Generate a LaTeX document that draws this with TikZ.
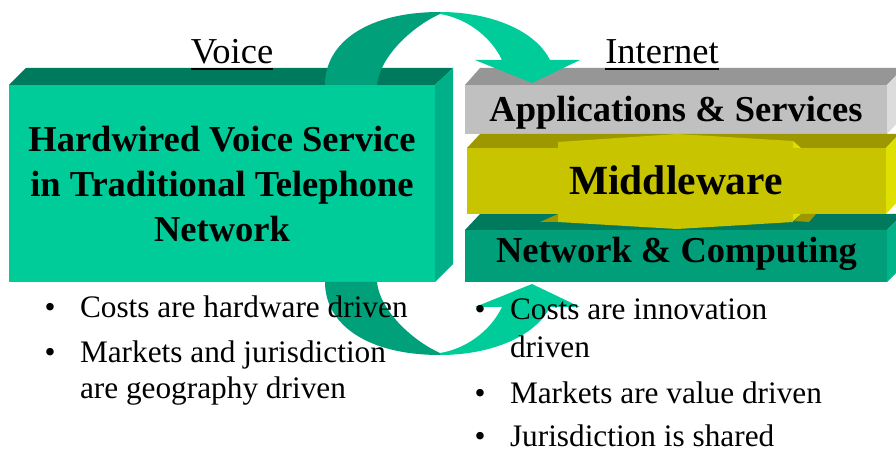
\documentclass[tikz,border=0pt]{standalone}
\usepackage{fontspec}
\setmainfont{Liberation Serif}

% slab colours
\definecolor{vfrontc}{HTML}{00CC99}
\definecolor{vtopc}{HTML}{007A5C}
\definecolor{vsidec}{HTML}{00B088}
\definecolor{gfrontc}{HTML}{C0C0C0}
\definecolor{gtopc}{HTML}{969696}
\definecolor{gsidec}{HTML}{DCDCDC}
\definecolor{yfrontc}{HTML}{C8C400}
\definecolor{ytopc}{HTML}{9E9800}
\definecolor{ysidec}{HTML}{E0E000}
\definecolor{nfrontc}{HTML}{009E79}
\definecolor{ntopc}{HTML}{007A5C}
\definecolor{nsidec}{HTML}{00B388}
\definecolor{arrdarkc}{HTML}{00A07A}
\definecolor{arrlightc}{HTML}{00CC99}

% underlined heading word
\newcommand\ulword[1]{\setbox0\hbox{#1}\rlap{\rule[-6bp]{\wd0}{2bp}}\box0}

% curved ribbon arrow: dark back half and light front half with its head
\newcommand\ribbonarrow{%
  \fill[arrdark] (325,85) .. controls (325,42) and (368,12) .. (440,12)
     -- (440,14) .. controls (415,25) and (380,55) .. (377,85) -- cycle;
  \fill[arrlight] (440,12) .. controls (490,12) and (535,30) .. (550,60)
     -- (580,60) -- (532,83) -- (475,60) -- (502,60)
     .. controls (490,35) and (465,18) .. (440,14) -- cycle;
}

\tikzset{
  vfront/.style={fill=vfrontc}, vtop/.style={fill=vtopc}, vside/.style={fill=vsidec},
  gfront/.style={fill=gfrontc}, gtop/.style={fill=gtopc}, gside/.style={fill=gsidec},
  yfront/.style={fill=yfrontc}, ytop/.style={fill=ytopc}, yside/.style={fill=ysidec},
  nfront/.style={fill=nfrontc}, ntop/.style={fill=ntopc}, nside/.style={fill=nsidec},
  arrdark/.style={fill=arrdarkc}, arrlight/.style={fill=arrlightc},
  txt/.style={inner sep=0pt, outer sep=0pt, text=black},
  heading/.style={txt, anchor=base, font=\fontsize{36.5bp}{44bp}\selectfont},
  boxtxt/.style={txt, anchor=base, font=\fontsize{36.5bp}{45bp}\selectfont\bfseries},
  midtxt/.style={txt, anchor=base, font=\fontsize{41.5bp}{50bp}\selectfont\bfseries},
  bul/.style={txt, anchor=base, font=\fontsize{31.3bp}{35bp}\selectfont},
  btxt/.style={txt, anchor=base west, font=\fontsize{31.3bp}{35bp}\selectfont},
}

\begin{document}
\begin{tikzpicture}[x=1bp,y=-1bp]
\fill[white] (0,0) rectangle (896,450);
\useasboundingbox (0,0) rectangle (896,450);

% voice slab
\fill[vtop] (9,85) -- (26,68) -- (453,68) -- (435,85) -- cycle;
\fill[vside] (435,85) -- (453,68) -- (453,264) -- (435,282) -- cycle;
\fill[vfront] (9,85) rectangle (435,282);

% applications slab
\fill[gtop] (465,85) -- (480,68) -- (903,68) -- (887,85) -- cycle;
\fill[gside] (887,85) -- (903,68) -- (903,117) -- (887,134) -- cycle;
\fill[gfront] (465,85) rectangle (887,134);

% network slab
\fill[ntop] (465,230) -- (480,214) -- (903,214) -- (887,230) -- cycle;
\fill[nside] (887,230) -- (903,214) -- (903,266) -- (887,282) -- cycle;
\fill[nfront] (465,230) rectangle (887,282);

% middleware slab
\fill[ytop] (467,148) -- (480,134) -- (899,134) -- (886,148) -- cycle;
\fill[yside] (886,148) -- (899,134) -- (899,200) -- (886,214) -- cycle;
\fill[yfront] (467,148) rectangle (886,214);

% middleware bulge with bevelled ends
\fill[ytop] (540,143) -- (558,141) -- (558,148) -- (540,148) -- cycle;
\fill[ytop] (540,222) -- (558,214) -- (558,222) -- cycle;
\fill[ytop] (794,221) -- (801,214) -- (816,214) -- (809,222) -- cycle;
\fill[yside] (793,141) -- (801,148) -- (793,148) -- cycle;
\fill[yside] (793,214) -- (801,214) -- (793,221) -- cycle;
\fill[yfront] (558,142) -- (677,134) -- (793,141) -- (793,222) -- (677,229) -- (558,222) -- cycle;

% curved arrows: upper one, and its mirror image below
\ribbonarrow
\begin{scope}[shift={(0,367)}, yscale=-1]
  \ribbonarrow
\end{scope}

% headings
\node[heading] (voice) at (232,64) {\ulword{Voice}};
\node[heading] (internet) at (662,64) {\ulword{Internet}};

% slab labels (a multi-line node sits on the baseline of its last line)
\node[boxtxt, align=center] (hw) at (222,242) {Hardwired Voice Service\\in Traditional Telephone\\Network};
\node[boxtxt] (apps) at (676,122) {Applications \& Services};
\node[midtxt] (mid) at (676,195) {Middleware};
\node[boxtxt] (net) at (676.5,263) {Network \& Computing};

% voice bullets
\node[bul] (vb1) at (50,318) {•};
\node[btxt] (vt1) at (80,318) {Costs are hardware driven};
\node[bul] (vb2) at (50,363) {•};
\node[btxt] (vt2) at (80,363) {Markets and jurisdiction};
\node[btxt] (vt2b) at (80,398) {are geography driven};

% internet bullets
\node[bul] (ib1) at (480,320) {•};
\node[btxt] (it1) at (510,320) {Costs are innovation};
\node[btxt] (it1b) at (510,358) {driven};
\node[bul] (ib2) at (480,403) {•};
\node[btxt] (it2) at (510,403) {Markets are value driven};
\node[bul] (ib3) at (480,446) {•};
\node[btxt] (it3) at (510,446) {Jurisdiction is shared};
\end{tikzpicture}
\end{document}
